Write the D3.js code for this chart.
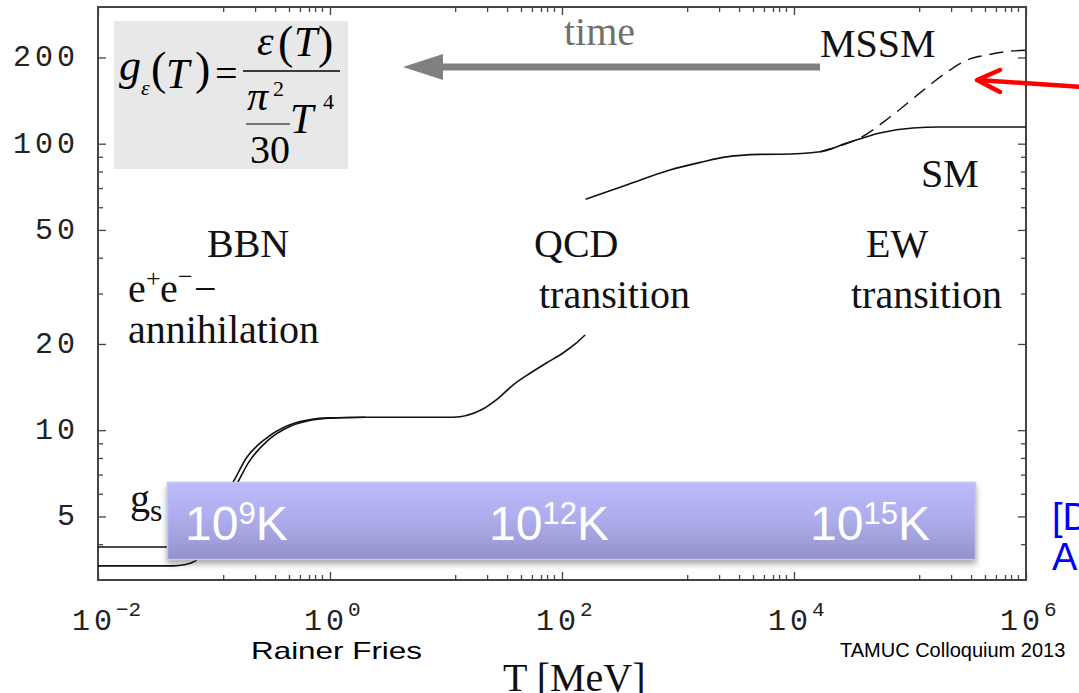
<!DOCTYPE html>
<html>
<head>
<meta charset="utf-8">
<script src="https://cdn.jsdelivr.net/npm/d3@7"></script>
<style>
  html, body { margin: 0; padding: 0; background: #ffffff; }
  svg { display: block; }
</style>
</head>
<body>
<script>
// Effective degrees of freedom g(T) vs temperature T [MeV]

// Low-temperature branch, energy-density dof (lower curve below e+e- annihilation)
const gEpsLow = [
  [0.01, 3.36], [0.045, 3.36], [0.055, 3.39], [0.0686, 3.49], [0.08, 3.9],
  [0.1, 4.6], [0.13, 5.6], [0.161, 6.6], [0.2, 7.75], [0.29, 9.2],
  [0.45, 10.3], [0.7, 10.85], [1, 11.02], [2, 11.1], [5, 11.1],
  [11.5, 11.1], [20, 11.76], [28, 12.9], [38, 14.4], [53, 15.8],
  [74, 17.2], [102, 18.6], [130, 20.0], [158, 21.5]
];

// Low-temperature branch, entropy dof g_s (upper curve below e+e- annihilation)
const gSLow = [
  [0.01, 3.91], [0.05, 3.91], [0.062, 3.97], [0.08, 4.4], [0.1, 5.1],
  [0.125, 6.0], [0.146, 6.59], [0.19, 8.0], [0.28, 9.35], [0.44, 10.4],
  [0.7, 10.92], [1, 11.04], [2, 11.1]
];

// Standard Model above the QCD transition
const gSM = [
  [160, 64.0], [360, 71.7], [850, 80.9], [1650, 86.5], [2450, 89.6],
  [5100, 91.8], [7600, 91.9], [16800, 93.7], [28600, 100.5], [55000, 109],
  [106000, 113.5], [180000, 114.4], [1000000, 114.4]
];

// Minimal supersymmetric extension (dashed)
const gMSSM = [
  [16800, 93.7], [26400, 99.0], [37000, 104.7], [67300, 123.9], [122000, 150.4],
  [208000, 177.9], [310000, 195.9], [461000, 204], [634000, 209], [1000000, 212]
];

// Axis ticks
const xMajorTicks = [1e-2, 1e0, 1e2, 1e4, 1e6];
const xMajorExponents = ["\u22122", "0", "2", "4", "6"];
const xMinorFactors = [0.12, 0.226, 0.336, 0.443, 0.551, 0.659, 0.743, 0.853];
const xMinorDecades = [1e0, 1e2, 1e4, 1e6];
const yLabeledTicks = [5, 10, 20, 50, 100, 200];
const yMinorTicks = [4, 6, 7, 8, 9, 30, 40, 60, 70, 80, 90];

// Temperature band labels
const bandLabels = [
  { base: "10", exp: "9", unit: "K" },
  { base: "10", exp: "12", unit: "K" },
  { base: "10", exp: "15", unit: "K" }
];

const W = 1079, H = 693;
const plot = { left: 98, right: 1026, top: 7, bottom: 580 };

const x = d3.scaleLog().domain([1e-2, 1e6]).range([plot.left, plot.right]);
const y = d3.scaleLog().domain([3, 300]).range([plot.bottom, plot.top]);

const svg = d3.select("body").append("svg")
  .attr("width", W).attr("height", H)
  .attr("viewBox", `0 0 ${W} ${H}`);

const defs = svg.append("defs");
defs.append("clipPath").attr("id", "plotClip")
  .append("rect")
  .attr("x", plot.left).attr("y", plot.top)
  .attr("width", plot.right - plot.left).attr("height", plot.bottom - plot.top);

const grad = defs.append("linearGradient").attr("id", "bandGrad")
  .attr("x1", 0).attr("y1", 0).attr("x2", 0).attr("y2", 1);
grad.append("stop").attr("offset", "0%").attr("stop-color", "#bcbcfc");
grad.append("stop").attr("offset", "50%").attr("stop-color", "#acacea");
grad.append("stop").attr("offset", "100%").attr("stop-color", "#9292ca");

const shadow = defs.append("filter").attr("id", "bandShadow")
  .attr("x", "-5%").attr("y", "-20%").attr("width", "110%").attr("height", "150%");
shadow.append("feDropShadow")
  .attr("dx", 0).attr("dy", 4).attr("stdDeviation", 3)
  .attr("flood-color", "#000").attr("flood-opacity", 0.35);

// ---------- formula box ----------
svg.append("rect")
  .attr("x", 114).attr("y", 21).attr("width", 234).attr("height", 148)
  .attr("fill", "#e8e8e8");

const serif = "'Liberation Serif', 'Times New Roman', serif";
const f = svg.append("g").attr("font-family", serif).attr("fill", "#000");

// each formula group is one text element made of positioned tspans
function formula(parts) {
  const t = f.append("text");
  parts.forEach(p => {
    t.append("tspan").attr("x", p[0]).attr("y", p[1])
      .attr("font-size", p[3])
      .attr("font-style", p[4] ? "italic" : "normal")
      .text(p[2]);
  });
}
formula([
  [119, 80, "g", 44, true], [141, 95, "\u03b5", 22, true],
  [151, 84, "(", 46, false], [166, 88, "T", 42, true], [195, 84, ")", 46, false]
]);
formula([[215, 87, "=", 40, false]]);
f.append("line").attr("x1", 243).attr("x2", 340).attr("y1", 71).attr("y2", 71)
  .attr("stroke", "#000").attr("stroke-width", 1.3);
formula([
  [257, 55, "\u03b5", 42, true], [278, 58, "(", 46, false],
  [294, 56, "T", 42, true], [318, 58, ")", 46, false]
]);
formula([[247, 110, "\u03c0", 42, true], [273, 96, "2", 22, false]]);
f.append("line").attr("x1", 246).attr("x2", 290).attr("y1", 124).attr("y2", 124)
  .attr("stroke", "#000").attr("stroke-width", 1.1);
formula([[250, 163, "30", 40, false]]);
formula([[290, 133, "T", 42, true], [323, 109, "4", 22, false]]);

// ---------- frame and ticks ----------
const tickColor = "#444";
const majorLen = 8, minorLen = 5;
const xMinor = [];
xMinorDecades.forEach(d => xMinorFactors.forEach(m => xMinor.push(d * m)));

function styleAxis(g) {
  g.select(".domain").remove();
  g.selectAll(".tick line").attr("stroke", tickColor).attr("stroke-width", 1.3);
  g.selectAll(".tick text").remove();
}

// bottom
svg.append("g").attr("transform", `translate(0,${plot.bottom})`)
  .call(d3.axisBottom(x).tickValues(xMajorTicks).tickSize(-majorLen).tickFormat(""))
  .call(styleAxis);
svg.append("g").attr("transform", `translate(0,${plot.bottom})`)
  .call(d3.axisBottom(x).tickValues(xMinor).tickSize(-minorLen).tickFormat(""))
  .call(styleAxis);
// top
svg.append("g").attr("transform", `translate(0,${plot.top})`)
  .call(d3.axisTop(x).tickValues(xMajorTicks).tickSize(-majorLen).tickFormat(""))
  .call(styleAxis);
svg.append("g").attr("transform", `translate(0,${plot.top})`)
  .call(d3.axisTop(x).tickValues(xMinor).tickSize(-minorLen).tickFormat(""))
  .call(styleAxis);
// left
svg.append("g").attr("transform", `translate(${plot.left},0)`)
  .call(d3.axisLeft(y).tickValues(yLabeledTicks).tickSize(-majorLen).tickFormat(""))
  .call(styleAxis);
svg.append("g").attr("transform", `translate(${plot.left},0)`)
  .call(d3.axisLeft(y).tickValues(yMinorTicks).tickSize(-minorLen).tickFormat(""))
  .call(styleAxis);
// right
svg.append("g").attr("transform", `translate(${plot.right},0)`)
  .call(d3.axisRight(y).tickValues(yLabeledTicks).tickSize(-majorLen).tickFormat(""))
  .call(styleAxis);
svg.append("g").attr("transform", `translate(${plot.right},0)`)
  .call(d3.axisRight(y).tickValues(yMinorTicks).tickSize(-minorLen).tickFormat(""))
  .call(styleAxis);

svg.append("rect")
  .attr("x", plot.left).attr("y", plot.top)
  .attr("width", plot.right - plot.left).attr("height", plot.bottom - plot.top)
  .attr("fill", "none").attr("stroke", tickColor).attr("stroke-width", 2);

// tick labels
const mono = "'Liberation Mono', 'Courier New', monospace";
svg.append("g").selectAll("text").data(yLabeledTicks).join("text")
  .attr("x", 79).attr("y", d => y(d) + 9)
  .attr("text-anchor", "end")
  .attr("font-family", mono).attr("font-size", 30)
  .attr("letter-spacing", 4).attr("fill", "#222")
  .text(d => d);

const xl = svg.append("g").attr("font-family", mono).attr("fill", "#222");
xMajorTicks.forEach((v, i) => {
  const t = xl.append("text").attr("x", x(v) - 26).attr("y", 630)
    .attr("font-size", 30).attr("letter-spacing", 4);
  t.append("tspan").text("10");
  t.append("tspan").attr("dy", -14).attr("font-size", 21).attr("letter-spacing", 0)
    .text(xMajorExponents[i]);
});

// ---------- curves ----------
const line = d3.line()
  .x(d => x(d[0])).y(d => y(d[1]))
  .curve(d3.curveMonotoneX);

const curves = svg.append("g").attr("clip-path", "url(#plotClip)")
  .attr("fill", "none").attr("stroke", "#111").attr("stroke-width", 1.6)
  .attr("stroke-linejoin", "round");
curves.append("path").attr("d", line(gSLow));
curves.append("path").attr("d", line(gEpsLow));
curves.append("path").attr("d", line(gSM));
curves.append("path").attr("d", line(gMSSM))
  .attr("stroke-dasharray", "14,8").attr("stroke-width", 1.4);

// ---------- annotation labels ----------
const lab = svg.append("g").attr("font-family", serif).attr("font-size", 40).attr("fill", "#111");
lab.append("text").attr("x", 207).attr("y", 257).text("BBN");
lab.append("text").attr("x", 128).attr("y", 302).text("e");
lab.append("text").attr("x", 146).attr("y", 287).attr("font-size", 26).text("+");
lab.append("text").attr("x", 160).attr("y", 302).text("e");
lab.append("text").attr("x", 178).attr("y", 285).attr("font-size", 26).text("\u2212");
lab.append("text").attr("x", 194).attr("y", 302).text("\u2212");
lab.append("text").attr("x", 128).attr("y", 343).text("annihilation");
lab.append("text").attr("x", 534).attr("y", 257).text("QCD");
lab.append("text").attr("x", 539).attr("y", 308).text("transition");
lab.append("text").attr("x", 866).attr("y", 257).text("EW");
lab.append("text").attr("x", 851).attr("y", 308).text("transition");
lab.append("text").attr("x", 820).attr("y", 57).text("MSSM");
lab.append("text").attr("x", 921).attr("y", 187).text("SM");
const gsl = lab.append("text").attr("x", 130).attr("y", 512);
gsl.append("tspan").text("g");
gsl.append("tspan").attr("dy", 9).attr("font-size", 32).text("s");
lab.append("text").attr("x", 564).attr("y", 45).attr("fill", "#707070").text("time");

// time arrow
svg.append("line").attr("x1", 436).attr("x2", 820).attr("y1", 67).attr("y2", 67)
  .attr("stroke", "#808080").attr("stroke-width", 7);
svg.append("path").attr("d", "M403,67 L443,54 L443,80 Z").attr("fill", "#808080");

// red pointer
svg.append("path").attr("d", "M1082,87 L978,80")
  .attr("stroke", "#ff0000").attr("stroke-width", 4.5).attr("fill", "none");
svg.append("path").attr("d", "M1000,70 L977,80 L1000,92")
  .attr("stroke", "#ff0000").attr("stroke-width", 4.5).attr("fill", "none")
  .attr("stroke-linecap", "round").attr("stroke-linejoin", "round");

// ---------- temperature band ----------
svg.append("rect")
  .attr("x", 167).attr("y", 482).attr("width", 809).attr("height", 78)
  .attr("fill", "url(#bandGrad)").attr("filter", "url(#bandShadow)");
svg.append("rect")
  .attr("x", 167.5).attr("y", 482.5).attr("width", 808).attr("height", 77)
  .attr("fill", "none").attr("stroke", "#c4c4f6").attr("stroke-width", 1.5);

const bandX = [185, 489, 810];
const bl = svg.append("g").attr("font-family", "'Liberation Sans', Arial, sans-serif")
  .attr("fill", "#ffffff");
bandLabels.forEach((b, i) => {
  const t = bl.append("text").attr("x", bandX[i]).attr("y", 540).attr("font-size", 48);
  t.append("tspan").text(b.base);
  t.append("tspan").attr("dy", -16).attr("font-size", 31).text(b.exp);
  t.append("tspan").attr("dy", 16).text(b.unit);
});

// ---------- side and footer text ----------
const sans = "'Liberation Sans', Arial, sans-serif";
svg.append("text").attr("x", 1052).attr("y", 530).attr("font-family", sans)
  .attr("font-size", 38).attr("fill", "#0000ff").text("[D");
svg.append("text").attr("x", 1052).attr("y", 570).attr("font-family", sans)
  .attr("font-size", 38).attr("fill", "#0000ff").text("A");
svg.append("text").attr("x", 251).attr("y", 659).attr("font-family", sans)
  .attr("font-size", 24).attr("fill", "#000")
  .attr("textLength", 171).attr("lengthAdjust", "spacingAndGlyphs")
  .text("Rainer Fries");
svg.append("text").attr("x", 840).attr("y", 657).attr("font-family", sans)
  .attr("font-size", 20).attr("fill", "#000").text("TAMUC Colloquium 2013");
svg.append("text").attr("x", 503).attr("y", 691).attr("font-family", serif)
  .attr("font-size", 40).attr("fill", "#111").text("T [MeV]");
</script>
</body>
</html>
